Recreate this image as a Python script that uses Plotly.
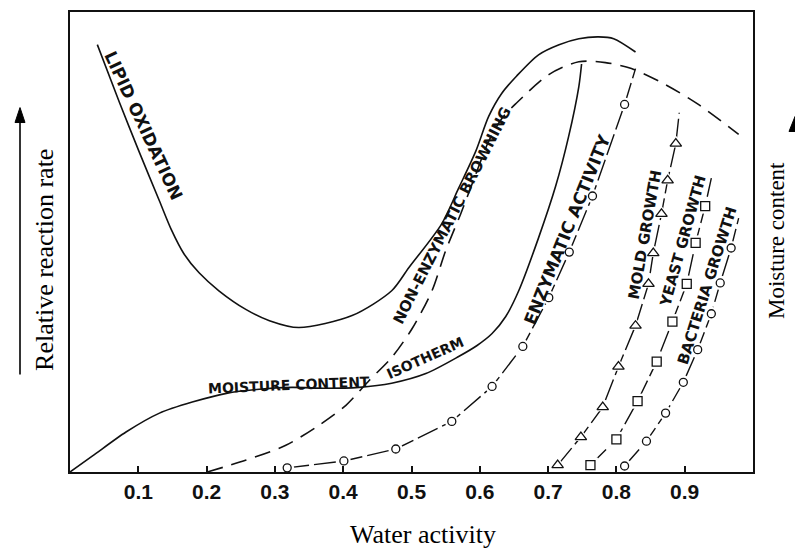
import plotly.graph_objects as go

# ---------------- data ----------------
aw_ticks = [0.1, 0.2, 0.3, 0.4, 0.5, 0.6, 0.7, 0.8, 0.9]
aw_tick_labels = ["0.1", "0.2", "0.3", "0.4", "0.5", "0.6", "0.7", "0.8", "0.9"]

lipid_aw = [0.040, 0.072, 0.101, 0.131, 0.148, 0.167, 0.189, 0.218, 0.258, 0.292,
            0.335, 0.413, 0.471, 0.496, 0.544, 0.569, 0.594, 0.613, 0.632, 0.654,
            0.686, 0.716, 0.745, 0.774, 0.796, 0.828]
lipid_rate = [92.9, 80.5, 69.7, 58.9, 52.8, 47.4, 43.3, 39.4, 35.3, 32.9,
              31.4, 34.0, 39.4, 44.4, 53.9, 61.7, 69.7, 77.3, 82.3, 86.1,
              90.7, 92.9, 94.2, 94.6, 94.2, 91.3]

isotherm_aw = [0.0, 0.033, 0.082, 0.131, 0.179, 0.229, 0.277, 0.325, 0.375, 0.423,
               0.471, 0.521, 0.569, 0.596, 0.618, 0.638, 0.657, 0.686, 0.711, 0.730,
               0.745, 0.749]
isotherm_mc = [0.0, 3.5, 8.7, 12.8, 15.2, 17.1, 18.0, 18.4, 18.2, 18.4,
               19.3, 21.4, 25.1, 27.5, 30.1, 33.8, 39.4, 50.9, 62.1, 72.9,
               83.8, 88.7]

browning_aw = [0.201, 0.258, 0.316, 0.365, 0.404, 0.438, 0.471, 0.501, 0.530, 0.550,
               0.572, 0.593, 0.613, 0.632, 0.653, 0.701, 0.745, 0.784, 0.822, 0.872,
               0.920, 0.979]
browning_rate = [0.0, 2.6, 5.8, 10.2, 14.5, 19.9, 24.9, 31.2, 39.4, 48.1,
                 56.1, 64.3, 71.9, 76.8, 80.1, 86.4, 89.2, 89.0, 87.7, 84.2,
                 79.9, 73.4]

enzyme_aw = [0.318, 0.401, 0.477, 0.559, 0.618, 0.663, 0.701, 0.731, 0.765, 0.812]
enzyme_rate = [0.9, 2.4, 5.0, 11.0, 18.6, 27.3, 37.9, 47.8, 60.0, 79.9]
enzyme_end = [0.828, 87.7]

mold_aw = [0.714, 0.748, 0.780, 0.803, 0.828, 0.847, 0.854, 0.866, 0.875, 0.887]
mold_rate = [1.5, 7.6, 14.1, 22.9, 31.8, 40.9, 47.6, 56.1, 63.4, 71.4]
mold_end = [0.892, 78.1]

yeast_aw = [0.762, 0.800, 0.831, 0.859, 0.882, 0.903, 0.916, 0.930]
yeast_rate = [1.5, 7.1, 15.4, 24.0, 32.7, 40.9, 49.8, 57.8]
yeast_end = [0.939, 63.9]

bacteria_aw = [0.812, 0.844, 0.872, 0.898, 0.919, 0.939, 0.952, 0.968]
bacteria_rate = [1.3, 6.7, 12.8, 19.5, 26.6, 34.4, 41.1, 48.7]
bacteria_end = [0.979, 55.2]

# ---------------- layout helpers ----------------
W, H = 795, 551
ML, MR, MT, MB = 70, 42, 10, 79
PW, PH = W - ML - MR, H - MT - MB
INK = "#111111"


def paper(x, y):
    """pixel position -> paper coordinates"""
    return (x - ML) / PW, (H - MB - y) / PH


fig = go.Figure()

smooth = dict(color=INK, width=1.6, shape="spline", smoothing=0.8)
fig.add_trace(go.Scatter(x=lipid_aw, y=lipid_rate, mode="lines", line=smooth,
                         hoverinfo="skip"))
fig.add_trace(go.Scatter(x=isotherm_aw, y=isotherm_mc, mode="lines", line=smooth,
                         hoverinfo="skip"))
fig.add_trace(go.Scatter(x=browning_aw, y=browning_rate, mode="lines",
                         line=dict(color=INK, width=1.6, shape="spline", smoothing=0.8,
                                   dash="16px,9px"),
                         hoverinfo="skip"))


def growth(aw, rate, end, symbol, size):
    fig.add_trace(go.Scatter(x=aw + [end[0]], y=rate + [end[1]], mode="lines",
                             line=dict(color=INK, width=1.4, dash="22px,5px"),
                             hoverinfo="skip"))
    fig.add_trace(go.Scatter(x=aw, y=rate, mode="markers",
                             marker=dict(symbol=symbol, size=size + 6, color="white",
                                         line=dict(width=0)),
                             hoverinfo="skip"))
    fig.add_trace(go.Scatter(x=aw, y=rate, mode="markers",
                             marker=dict(symbol=symbol + "-open", size=size, color=INK,
                                         line=dict(width=1.3, color=INK)),
                             hoverinfo="skip"))


growth(enzyme_aw, enzyme_rate, enzyme_end, "circle", 8)
growth(mold_aw, mold_rate, mold_end, "triangle-up", 10)
growth(yeast_aw, yeast_rate, yeast_end, "square", 9)
growth(bacteria_aw, bacteria_rate, bacteria_end, "circle", 8)

# curve labels (pixel centre, angle, size)
labels = [
    ("LIPID OXIDATION", 144, 124, 65, 17),
    ("NON-ENZYMATIC BROWNING", 452, 215, -63, 15),
    ("MOISTURE CONTENT", 289, 385, -2.5, 14),
    ("ISOTHERM", 425, 358, -24, 14),
    ("ENZYMATIC ACTIVITY", 567, 229, -68, 17),
    ("MOLD GROWTH", 645, 234, -80, 15),
    ("YEAST GROWTH", 683, 240, -74.5, 15),
    ("BACTERIA GROWTH", 707, 285, -72.5, 15),
]
annotations = []
for text, x, y, ang, size in labels:
    px_, py_ = paper(x, y)
    annotations.append(dict(text=text, x=px_, y=py_, xref="paper", yref="paper",
                            showarrow=False, textangle=ang, xanchor="center",
                            yanchor="middle",
                            font=dict(family="DejaVu Sans", size=size, color=INK,
                                      weight="bold")))

serif = dict(family="Liberation Serif", color="black")
titles = [
    ("Water activity", 423, 535, 0, 26),
    ("Relative reaction rate", 45, 259, -90, 26),
    ("Moisture content", 776, 240, -90, 23),
]
for text, x, y, ang, size in titles:
    px_, py_ = paper(x, y)
    annotations.append(dict(text=text, x=px_, y=py_, xref="paper", yref="paper",
                            showarrow=False, textangle=ang, xanchor="center",
                            yanchor="middle", font=dict(size=size, **serif)))

shapes = []
# left arrow
x0, y0 = paper(20, 374)
x1, y1 = paper(20, 118)
shapes.append(dict(type="line", xref="paper", yref="paper", x0=x0, y0=y0, x1=x1, y1=y1,
                   line=dict(color="black", width=1.6)))


def tri(tx, ty, half, length):
    a = paper(tx, ty)
    b = paper(tx - half, ty + length)
    c = paper(tx + half, ty + length)
    return dict(type="path", xref="paper", yref="paper",
                path=f"M {a[0]} {a[1]} L {b[0]} {b[1]} L {c[0]} {c[1]} Z",
                fillcolor="black", line=dict(color="black", width=1))


shapes.append(tri(20, 106, 5, 15))
shapes.append(tri(795, 115, 6, 15))

fig.update_layout(
    width=W, height=H,
    margin=dict(l=ML, r=MR, t=MT, b=MB),
    paper_bgcolor="white", plot_bgcolor="white",
    showlegend=False,
    annotations=annotations,
    shapes=shapes,
    xaxis=dict(range=[0, 1], showline=True, mirror=True, linewidth=2, linecolor=INK,
               showgrid=False, zeroline=False, ticks="inside", ticklen=6, tickwidth=2,
               tickcolor=INK, tickvals=aw_ticks, ticktext=aw_tick_labels,
               tickfont=dict(family="Liberation Sans", size=21, color=INK, weight="bold")),
    yaxis=dict(range=[0, 100], showline=True, mirror=True, linewidth=2, linecolor=INK,
               showgrid=False, zeroline=False, ticks="", showticklabels=False),
)

fig.write_html("out.html")
